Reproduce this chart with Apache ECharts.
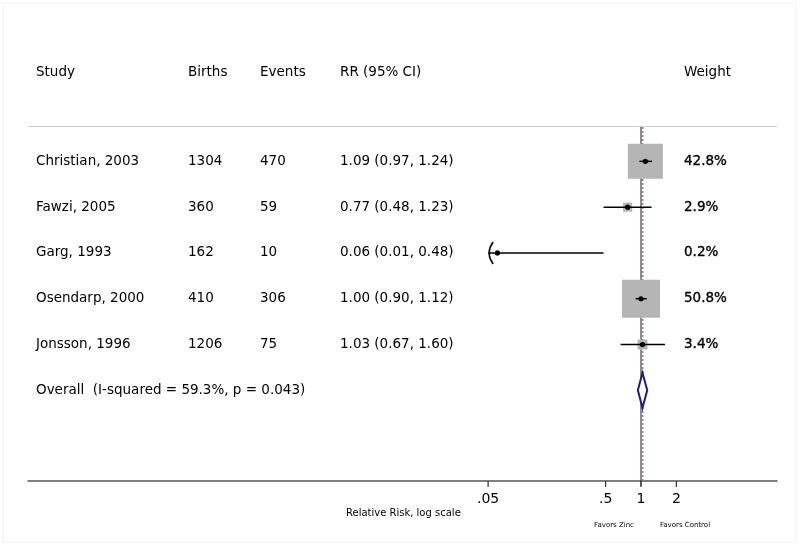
<!DOCTYPE html>
<html><head><meta charset="utf-8">
<script src="https://cdn.jsdelivr.net/npm/echarts@6/dist/echarts.min.js"></script>
<style>html,body{margin:0;padding:0;background:#fff}#c{width:800px;height:548px}</style>
</head><body><div id="c"></div>
<script>
const headers = ['Study', 'Births', 'Events', 'RR (95% CI)', 'Weight'];
const studies = ['Christian, 2003', 'Fawzi, 2005', 'Garg, 1993', 'Osendarp, 2000', 'Jonsson, 1996'];
const births = [1304, 360, 162, 410, 1206];
const events = [470, 59, 10, 306, 75];
const rr = [1.09, 0.77, 0.06, 1.00, 1.03];
const lower = [0.97, 0.48, 0.01, 0.90, 0.67];
const upper = [1.24, 1.23, 0.48, 1.12, 1.60];
const weights = [42.8, 2.9, 0.2, 50.8, 3.4];
const overallLabel = 'Overall  (I-squared = 59.3%, p = 0.043)';
const overallEst = [1.03];
const overallLower = [0.94];
const overallUpper = [1.13];
const tickValues = [0.05, 0.5, 1, 2];
const tickLabels = ['.05', '.5', '1', '2'];
const displayMin = 0.05;

const FONT = '"DejaVu Sans", Verdana, sans-serif';
const colX = [36, 188, 260, 340, 684];
const Y_MIN = -0.75, Y_MAX = 6.98;
const X_MIN = 6.07e-6, X_MAX = 14.37;

const chart = echarts.init(document.getElementById('c'), null, {renderer: 'canvas'});

const rowData = studies.map((s, i) => [rr[i], lower[i], upper[i], weights[i], i]);
const tableRows = studies.map((s, i) => [1, i, s, String(births[i]), String(events[i]),
  rr[i].toFixed(2) + ' (' + lower[i].toFixed(2) + ', ' + upper[i].toFixed(2) + ')',
  weights[i].toFixed(1) + '%']);
tableRows.push([1, studies.length, overallLabel, '', '', '', '']);

function txt(x, y, s, size, align, heavy) {
  const style = {text: s, fill: '#000', font: size + 'px ' + FONT, textAlign: align || 'left', textVerticalAlign: 'middle'};
  if (heavy) { style.stroke = '#000'; style.lineWidth = 0.35; }
  return {type: 'text', x: x, y: y, style: style};
}

const option = {
  animation: false,
  backgroundColor: '#fff',
  grid: {left: 28, right: 23, top: 127, bottom: 67},
  xAxis: {
    type: 'log', logBase: 10, min: X_MIN, max: X_MAX,
    axisLine: {show: true, onZero: false, lineStyle: {color: '#555', width: 1.5}},
    axisTick: {show: false}, axisLabel: {show: false}, splitLine: {show: false}
  },
  yAxis: {type: 'value', inverse: true, min: Y_MIN, max: Y_MAX, show: false},
  graphic: [
    {type: 'rect', shape: {x: 3, y: 3, width: 793, height: 539}, style: {fill: null, stroke: '#f0f0f0', lineWidth: 1}, silent: true},
    {type: 'line', shape: {x1: 28, y1: 126.5, x2: 777, y2: 126.5}, style: {stroke: '#cfcfcf', lineWidth: 1.2}},
    ...headers.map((h, i) => txt(colX[i], 72, h, 13.5)),
    txt(346, 513, 'Relative Risk, log scale', 10),
    txt(614, 525, 'Favors Zinc', 7, 'center'),
    txt(685, 525, 'Favors Control', 7, 'center')
  ],
  series: [
    {
      name: 'refLines', type: 'custom', clip: false, z: 1,
      data: [[1, 0], [overallEst[0], 1]],
      renderItem: function (params, api) {
        const v = api.value(0), kind = api.value(1);
        const top = api.coord([v, Y_MIN]), bot = api.coord([v, Y_MAX]);
        if (kind === 0) {
          return {type: 'line', shape: {x1: top[0], y1: top[1], x2: bot[0], y2: bot[1] + 5}, style: {stroke: '#222', lineWidth: 1}};
        }
        return {type: 'line', shape: {x1: top[0], y1: top[1], x2: bot[0], y2: bot[1]}, style: {stroke: 'rgba(160,105,105,0.85)', lineWidth: 2, lineDash: [2, 2]}};
      }
    },
    {
      name: 'studies', type: 'custom', clip: false, z: 3,
      data: rowData,
      renderItem: function (params, api) {
        const est = api.value(0), lo = api.value(1), hi = api.value(2), w = api.value(3), row = api.value(4);
        const p = api.coord([est, row]);
        const pl = api.coord([Math.max(lo, displayMin), row]);
        const ph = api.coord([hi, row]);
        const side = 5.35 * Math.sqrt(w);
        const ch = [
          {type: 'rect', shape: {x: p[0] - side / 2, y: p[1] - side / 2, width: side, height: side}, style: {fill: '#b5b5b5'}},
          {type: 'line', shape: {x1: pl[0], y1: p[1], x2: ph[0], y2: p[1]}, style: {stroke: '#000', lineWidth: 1.5}},
          {type: 'circle', shape: {cx: p[0], cy: p[1], r: 2.6}, style: {fill: '#000'}}
        ];
        if (lo < displayMin) {
          ch.push({type: 'bezierCurve', shape: {x1: pl[0] + 5, y1: p[1] - 11, x2: pl[0] + 5, y2: p[1] + 11, cpx1: pl[0] - 3, cpy1: p[1]}, style: {stroke: '#000', lineWidth: 1.5, fill: null}});
        }
        return {type: 'group', children: ch};
      }
    },
    {
      name: 'overall', type: 'custom', clip: false, z: 4,
      data: overallEst.map((e, i) => [e, overallLower[i], overallUpper[i], studies.length]),
      renderItem: function (params, api) {
        const row = api.value(3);
        const c = api.coord([api.value(0), row]);
        const l = api.coord([api.value(1), row]);
        const r = api.coord([api.value(2), row]);
        const h = 17.5;
        return {type: 'polygon', shape: {points: [[l[0], c[1]], [c[0], c[1] - h], [r[0], c[1]], [c[0], c[1] + h]]}, style: {fill: '#fff', stroke: '#1c1c8a', lineWidth: 2}};
      }
    },
    {
      name: 'table', type: 'custom', clip: false, z: 5,
      data: tableRows,
      renderItem: function (params, api) {
        const y = api.coord([1, api.value(1)])[1];
        const ch = [];
        for (let k = 0; k < 5; k++) {
          const s = api.value(2 + k);
          if (s) ch.push(txt(colX[k], y, s, 13.5, 'left', k === 4));
        }
        return {type: 'group', children: ch};
      }
    },
    {
      name: 'ticks', type: 'custom', clip: false, z: 5,
      data: tickValues.map((v, i) => [v, i]),
      renderItem: function (params, api) {
        const p = api.coord([api.value(0), Y_MAX]);
        return {type: 'group', children: [
          {type: 'line', shape: {x1: p[0], y1: p[1], x2: p[0], y2: p[1] + 6}, style: {stroke: '#333', lineWidth: 1.2}},
          txt(p[0], p[1] + 18, tickLabels[api.value(1)], 14, 'center')
        ]};
      }
    }
  ]
};
chart.setOption(option);
</script>
</body></html>
